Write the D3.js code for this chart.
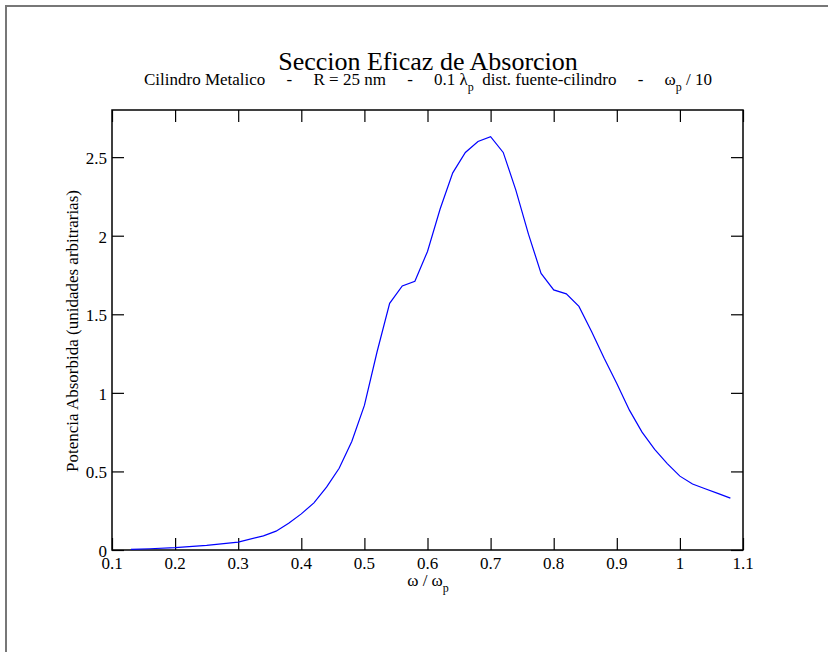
<!DOCTYPE html>
<html>
<head>
<meta charset="utf-8">
<script src="https://cdn.jsdelivr.net/npm/d3@7"></script>
<style>
  body { margin: 0; background: #fff; }
  svg text { font-family: "Liberation Serif", "Times New Roman", serif; fill: #000; }
</style>
</head>
<body>
<svg id="chart" width="828" height="652"></svg>
<script>
// frequency (omega / omega_p) and absorbed power
var omega = [0.13, 0.16, 0.20, 0.25, 0.30, 0.34, 0.36, 0.38, 0.40, 0.42, 0.44, 0.46, 0.48,
  0.50, 0.52, 0.54, 0.56, 0.58, 0.60, 0.62, 0.64, 0.66, 0.68, 0.70, 0.72, 0.74, 0.76,
  0.78, 0.80, 0.82, 0.84, 0.86, 0.88, 0.90, 0.92, 0.94, 0.96, 0.98, 1.00, 1.02, 1.04,
  1.06, 1.08];
var power = [0.004, 0.008, 0.015, 0.03, 0.05, 0.09, 0.12, 0.17, 0.23, 0.30, 0.40, 0.52, 0.69,
  0.92, 1.26, 1.57, 1.68, 1.71, 1.90, 2.17, 2.40, 2.53, 2.60, 2.63, 2.53, 2.29, 2.01,
  1.76, 1.655, 1.63, 1.55, 1.39, 1.22, 1.06, 0.89, 0.75, 0.64, 0.55, 0.47, 0.42, 0.39,
  0.36, 0.33];
var xTicks = [0.1, 0.2, 0.3, 0.4, 0.5, 0.6, 0.7, 0.8, 0.9, 1, 1.1];
var yTicks = [0, 0.5, 1, 1.5, 2, 2.5];

function drawChart() {
  var svg = d3.select("#chart");
  var pLeft = 112, pRight = 743, pTop = 110, pBottom = 550;

  var x = d3.scaleLinear().domain([0.1, 1.1]).range([pLeft, pRight]);
  var y = d3.scaleLinear().domain([0, 2.8]).range([pBottom, pTop]);

  // outer page frame (only top and left edges show)
  svg.append("rect")
    .attr("x", 6).attr("y", 6).attr("width", 900).attr("height", 700)
    .attr("fill", "none").attr("stroke", "#777").attr("stroke-width", 2);

  // ticks pointing inward on all four sides
  svg.append("g").attr("transform", "translate(0," + pBottom + ")")
    .call(d3.axisTop(x).tickValues(xTicks).tickSize(12).tickFormat(""));
  svg.append("g").attr("transform", "translate(0," + pTop + ")")
    .call(d3.axisBottom(x).tickValues(xTicks).tickSize(12).tickFormat(""));
  svg.append("g").attr("transform", "translate(" + pLeft + ",0)")
    .call(d3.axisRight(y).tickValues(yTicks).tickSize(12).tickFormat(""));
  svg.append("g").attr("transform", "translate(" + pRight + ",0)")
    .call(d3.axisLeft(y).tickValues(yTicks).tickSize(12).tickFormat(""));
  svg.selectAll(".domain").remove();
  svg.selectAll(".tick line").attr("stroke", "#000").attr("stroke-width", 1.2);

  svg.append("rect")
    .attr("x", pLeft).attr("y", pTop).attr("width", pRight - pLeft).attr("height", pBottom - pTop)
    .attr("fill", "none").attr("stroke", "#000").attr("stroke-width", 1.5);

  // tick labels
  svg.append("g").selectAll("text").data(xTicks).enter().append("text")
    .attr("x", function(d) { return x(d); })
    .attr("y", pBottom + 19)
    .attr("text-anchor", "middle")
    .style("font-size", "17px")
    .text(function(d) { return String(d); });
  svg.append("g").selectAll("text").data(yTicks).enter().append("text")
    .attr("x", pLeft - 5)
    .attr("y", function(d) { return y(d) + 7; })
    .attr("text-anchor", "end")
    .style("font-size", "17px")
    .text(function(d) { return String(d); });

  // curve
  var line = d3.line()
    .x(function(d, i) { return x(omega[i]); })
    .y(function(d) { return y(d); });
  svg.append("path")
    .datum(power)
    .attr("d", line)
    .attr("fill", "none")
    .attr("stroke", "#0000ff")
    .attr("stroke-width", 1.2);

  // titles
  svg.append("text")
    .attr("x", 428).attr("y", 70)
    .attr("text-anchor", "middle")
    .style("font-size", "26px")
    .text("Seccion Eficaz de Absorcion");

  var sub = svg.append("text")
    .attr("x", 428).attr("y", 85)
    .attr("text-anchor", "middle")
    .style("font-size", "17px")
    .style("white-space", "pre");
  sub.append("tspan").text("Cilindro Metalico     -     R = 25 nm     -     0.1 \u03bb");
  sub.append("tspan").attr("dy", 6).style("font-size", "12px").text("p");
  sub.append("tspan").attr("dy", -6).text("  dist. fuente-cilindro     -     \u03c9");
  sub.append("tspan").attr("dy", 6).style("font-size", "12px").text("p");
  sub.append("tspan").attr("dy", -6).text(" / 10");

  var xl = svg.append("text")
    .attr("x", 428).attr("y", 586)
    .attr("text-anchor", "middle")
    .style("font-size", "17px")
    .style("white-space", "pre");
  xl.append("tspan").text("\u03c9 / \u03c9");
  xl.append("tspan").attr("dy", 6).style("font-size", "12px").text("p");

  svg.append("text")
    .attr("transform", "translate(78,331) rotate(-90)")
    .attr("text-anchor", "middle")
    .style("font-size", "17px")
    .text("Potencia Absorbida (unidades arbitrarias)");
}

drawChart();
</script>
</body>
</html>
